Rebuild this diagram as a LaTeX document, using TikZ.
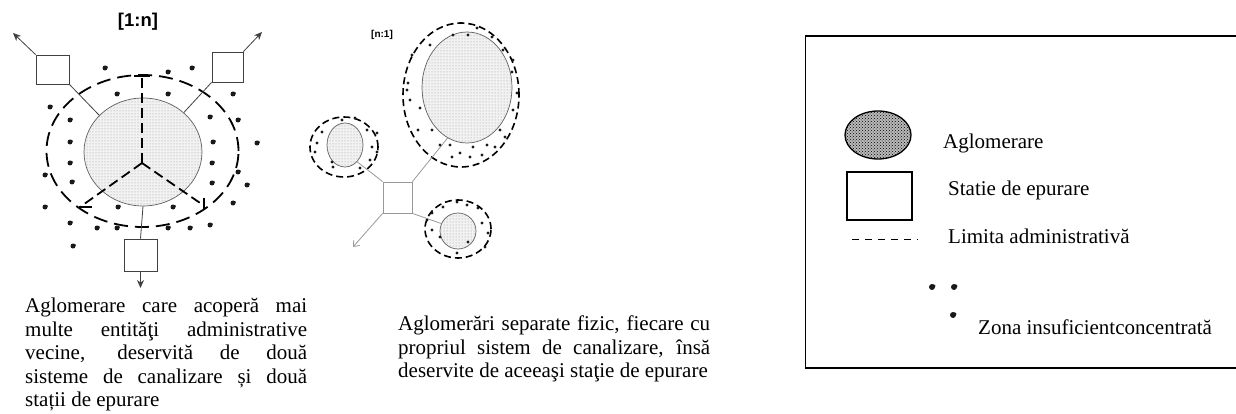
\documentclass[tikz,border=0pt]{standalone}
\usepackage{fontspec}
\setmainfont{Liberation Serif}
\newfontfamily\labelsans{Liberation Sans}
\usetikzlibrary{shapes.geometric,patterns,arrows.meta}
\begin{document}
\begin{tikzpicture}[x=1pt,y=-1pt,
  agl/.style={ellipse, inner sep=0pt, draw=gray!75!black, line width=0.7pt,
    preaction={fill=gray!10}, pattern=dots, pattern color=gray!85},
  sbox/.style={rectangle, draw=black!75, line width=0.9pt, inner sep=0pt, fill=white},
  mbox/.style={rectangle, draw=gray!80, line width=0.8pt, inner sep=0pt, fill=white},
  conn/.style={draw=black!75, line width=0.8pt},
  mconn/.style={draw=gray!80, line width=0.8pt},
  arr/.style={-{Stealth[length=8pt,width=7pt]}},
  marr/.style={-{Straight Barb[length=5pt,width=8pt]}},
  admin/.style={line width=1.8pt, dash pattern=on 14pt off 7pt},
  ydash/.style={line width=1.8pt, dash pattern=on 10pt off 5pt},
  madmin/.style={line width=1.6pt, dash pattern=on 7pt off 4pt},
  capt/.style={inner sep=0pt, align=left, font=\fontsize{21}{23.5}\selectfont},
  legtext/.style={inner sep=0pt, anchor=base west, font=\fontsize{21}{24}\selectfont},
  blob/.style={fill=black!90}
]
\useasboundingbox (0,0) rectangle (1236,414);

% ---------- [1:n] ----------
\node[font=\labelsans\bfseries\fontsize{18.5}{20}\selectfont, inner sep=0pt] (t1n) at (138,22) {[1:n]};
\draw[admin] (142.5,151) ellipse [x radius=96pt, y radius=76pt];
\node[agl, minimum width=118pt, minimum height=108pt] (lc) at (143,152) {};
\coordinate (yc) at (142,163);
\coordinate (yt) at (142,76);
\coordinate (yl) at (80,207);
\coordinate (yr) at (203,205);
\draw[ydash] (yc) -- (yt);
\draw[ydash] (yc) -- (yl);
\draw[ydash] (yc) -- (yr);
\draw[line width=1.8pt] (134,76) -- (150,76);
\draw[line width=1.8pt] (79,207) -- (92,207);
\draw[line width=1.8pt] (204,198) -- (204,210);

\node[sbox, minimum width=33pt, minimum height=29pt] (lb1) at (52.5,69.5) {};
\node[sbox, minimum width=31pt, minimum height=30pt] (lb2) at (227.5,67) {};
\node[sbox, minimum width=33pt, minimum height=32pt] (lb3) at (140.5,255) {};
\coordinate (la1) at (13,33);
\coordinate (la2) at (262,32);
\coordinate (la3) at (140.5,288);
\draw[conn, arr] (lb1.north west) -- (la1);
\draw[conn, arr] (lb2.north east) -- (la2);
\draw[conn, arr] (lb3.south) -- (la3);
\draw[conn] (lb1.south east) -- (lc.140);
\draw[conn] (lb2.south west) -- (lc.44);
\draw[conn] (lc.south) -- (lb3.north);

\foreach \x/\y in {105/68,168/72,192/68,50/107,117/94,168/94,233/94,70/120,210/117,238/120,
  70/142,213/142,257/143,70/163,212/163,238/172,45/175,72/182,212/183,247/185,
  45/207,118/207,173/207,233/203,70/223,97/228,117/228,168/228,190/228,210/225,73/246}
  {\fill[blob] (\x,\y) circle (2.5pt); \fill[blob] (\x+1.6,\y-0.8) circle (1.4pt);}

\node[capt, anchor=north west] (capL) at (25,298) {%
\makebox[282pt][s]{Aglomerare care acoperă mai}\\
\makebox[282pt][s]{multe entităţi administrative}\\
\makebox[282pt][s]{vecine, deservită de două}\\
\makebox[282pt][s]{sisteme de canalizare și două}\\
stații de epurare};

% ---------- [n:1] ----------
\node[font=\labelsans\bfseries\fontsize{10}{11}\selectfont, inner sep=0pt] (tn1) at (382,35) {[n:1]};
\draw[madmin] (461,95) ellipse [x radius=58pt, y radius=72pt];
\draw[madmin] (344,147) ellipse [x radius=34pt, y radius=30pt];
\draw[madmin] (458,229) ellipse [x radius=33pt, y radius=29pt];
\node[agl, minimum width=90pt, minimum height=111pt] (bc) at (467,87.5) {};
\node[agl, minimum width=36pt, minimum height=44pt] (lsc) at (345,145) {};
\node[agl, minimum width=36pt, minimum height=36pt] (rsc) at (458,231) {};
\node[mbox, minimum width=29pt, minimum height=31pt] (msq) at (397.5,197.5) {};
\coordinate (ma) at (353,247);
\draw[mconn] (msq.north east) -- (bc.249);
\draw[mconn] (msq.north west) -- (lsc.306);
\draw[mconn] (msq.south east) -- (rsc.156);
\draw[mconn, marr] (msq.south west) -- (ma);

\foreach \x/\y in {453/35,468/35,477/28,492/37,503/50,513/60,512/72,412/55,430/45,408/83,
  407/90,410/100,420/108,418/130,432/130,513/110,517/93,500/130,505/137,487/145,473/147,
  460/153,450/145,452/157,470/157,482/155,495/147,440/145,
  322/132,317/143,315/152,332/162,333/167,342/120,355/118,367/130,372/147,377/152,370/160,360/168,377/133,
  432/213,443/207,457/202,467/205,478/208,482/223,488/233,485/247,468/242,457/253,440/237,432/230,427/220}
  \fill[blob] (\x,\y) circle (1.7pt);

\node[capt, anchor=north west] (capM) at (398,316) {%
\makebox[312pt][s]{Aglomerări separate fizic, fiecare cu}\\
\makebox[312pt][s]{propriul sistem de canalizare, însă}\\
deservite de aceeaşi staţie de epurare};

% ---------- legend ----------
\draw[line width=1.5pt] (1237,36) -- (805.5,36) -- (805.5,368) -- (1237,368);
\node[ellipse, inner sep=0pt, draw=black, line width=1.3pt, minimum width=66pt, minimum height=48pt,
  preaction={fill=gray!55}, pattern=crosshatch dots, pattern color=black] (lgA) at (878,135) {};
\node[rectangle, draw=black, line width=1.4pt, inner sep=0pt, minimum width=65pt, minimum height=48pt] (lgS) at (879.5,196) {};
\coordinate (lgD1) at (852,239);
\coordinate (lgD2) at (918,239);
\draw[line width=1pt, dash pattern=on 7pt off 6pt] (lgD1) -- (lgD2);
\foreach \x/\y in {932/287,954/287,953/315}
  {\fill[blob] (\x,\y) circle (3pt); \fill[blob] (\x+1.8,\y-1) circle (1.8pt);}
\node[legtext] (lt1) at (943,149) {Aglomerare};
\node[legtext] (lt2) at (948,196) {Statie de epurare};
\node[legtext] (lt3) at (948,243) {Limita administrativă};
\node[legtext] (lt4) at (978,334) {Zona insuficientconcentrată};
\end{tikzpicture}
\end{document}
